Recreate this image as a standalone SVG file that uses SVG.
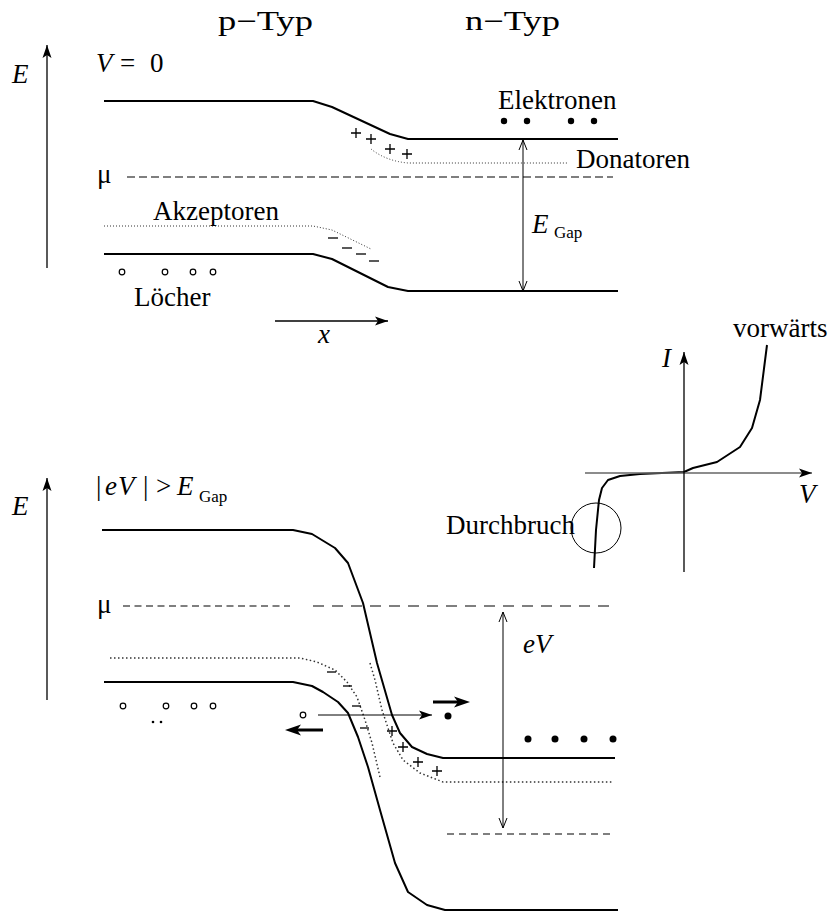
<svg xmlns="http://www.w3.org/2000/svg" width="833" height="914" viewBox="0 0 833 914">
<style>
text{font-family:"Liberation Serif","Times New Roman",serif;font-size:27px;fill:#000}
.it{font-style:italic}
.sub{font-size:17px}
.band{fill:none;stroke:#000;stroke-width:2;stroke-linejoin:round}
.dot{fill:none;stroke:#333;stroke-width:1;stroke-dasharray:1 2}
.dotb{fill:none;stroke:#333;stroke-width:1.5;stroke-dasharray:1.5 2.5}
.mu{fill:none;stroke:#555;stroke-width:1.3}
.ax{fill:none;stroke:#000;stroke-width:1.3}
.thin{fill:none;stroke:#000;stroke-width:1}
.bold{fill:none;stroke:#000;stroke-width:3}
.hole{fill:#fff;stroke:#000;stroke-width:1.2}
.el{fill:#000}
.sign{fill:none;stroke:#000;stroke-width:1.3}
</style>
<defs>
<marker id="ah" viewBox="-1 -6 15 12" markerWidth="15" markerHeight="12" refX="13" refY="0" orient="auto" markerUnits="userSpaceOnUse">
<path d="M0,-4.5 L13,0 L0,4.5 L3,0 z" fill="#000"/>
</marker>
<marker id="ahg" viewBox="-1 -6 15 12" markerWidth="15" markerHeight="12" refX="13" refY="0" orient="auto" markerUnits="userSpaceOnUse">
<path d="M0,-4.5 L13,0 L0,4.5 L3,0 z" fill="#000"/>
</marker>
<marker id="ahb" viewBox="-1 -7 18 14" markerWidth="18" markerHeight="14" refX="4" refY="0" orient="auto" markerUnits="userSpaceOnUse">
<path d="M0,-5.5 L16,0 L0,5.5 L4,0 z" fill="#000"/>
</marker>
<marker id="op" viewBox="-11 -6 12 12" markerWidth="12" markerHeight="12" refX="0" refY="0" orient="auto-start-reverse" markerUnits="userSpaceOnUse">
<path d="M-10,-4 L0,0 L-10,4" fill="none" stroke="#000" stroke-width="1"/>
</marker>
</defs>

<g id="header">
<text x="218" y="30" textLength="95" lengthAdjust="spacingAndGlyphs">p−Typ</text>
<text x="465" y="30" textLength="95" lengthAdjust="spacingAndGlyphs">n−Typ</text>
</g>

<g id="top-panel">
<text class="it" x="12" y="83">E</text>
<text x="96" y="72"><tspan class="it">V</tspan><tspan x="120">=</tspan><tspan x="150">0</tspan></text>
<path class="band" d="M104,101 H313 L332,107 L390,134 L408,139 H618"/>
<path class="band" d="M104,254 H313 L332,259 L388,287 L408,291 H618"/>
<path class="dot" d="M371,149 Q386,161 408,163 H568"/>
<path class="dot" d="M104,226 H313 L332,230 L371,249"/>
<path class="mu" d="M127,177 H613" stroke-dasharray="8 4"/>
<text x="97" y="183">μ</text>
<text x="153" y="220">Akzeptoren</text>
<text x="498" y="109">Elektronen</text>
<text x="576" y="168">Donatoren</text>
<text x="134" y="306">Löcher</text>
<text class="it" x="318" y="343">x</text>
<text class="it" x="532" y="233">E</text>
<text class="sub" x="554" y="238">Gap</text>
<g class="sign">
<path d="M351,133 h10 M356,128 v10"/>
<path d="M366,139 h10 M371,134 v10"/>
<path d="M385,149 h10 M390,144 v10"/>
<path d="M402,154 h10 M407,149 v10"/>
<path d="M328,238 h10"/>
<path d="M342,248 h10"/>
<path d="M356,254 h10"/>
<path d="M369,261 h10"/>
</g>
<g class="el">
<circle cx="504" cy="121" r="3.2"/>
<circle cx="527" cy="121" r="3.2"/>
<circle cx="571" cy="121" r="3.2"/>
<circle cx="594" cy="121" r="3.2"/>
</g>
<g>
<circle class="hole" cx="122" cy="272" r="2.8"/>
<circle class="hole" cx="165" cy="272" r="2.8"/>
<circle class="hole" cx="193" cy="272" r="2.8"/>
<circle class="hole" cx="213" cy="272" r="2.8"/>
</g>
</g>

<g id="iv-plot">
<text class="it" x="662" y="367">I</text>
<text class="it" x="799" y="503">V</text>
<text x="733" y="337">vorwärts</text>
<text x="446" y="534">Durchbruch</text>
<circle cx="596" cy="528" r="25" fill="none" stroke="#000" stroke-width="1"/>
<path class="band" d="M594,568 L596,530 L599,500 L602,488 L608,480 L620,476 L640,474 L684,472 L693,468 L717,462 L740,447 L752,428 L760,400 L767,345"/>
</g>

<g id="bottom-panel">
<text class="it" x="12" y="515">E</text>
<text x="96" y="495">|</text>
<text class="it" x="105" y="495">e</text>
<text class="it" x="118" y="495">V</text>
<text x="143" y="495">|</text>
<text x="156" y="495">&gt;</text>
<text class="it" x="177" y="495">E</text>
<text class="sub" x="199" y="502">Gap</text>
<text x="97" y="613">μ</text>
<text class="it" x="523" y="653">eV</text>
<path class="band" d="M102,530 H293 L312,534 L335,548 L348,563 L363,603 L377,663 L392,715 L400,733 L412,747 L427,754 L443,758 H615"/>
<path class="band" d="M104,682 H293 L312,686 L323,692 L338,702 L348,713 L358,737 L368,767 L380,810 L395,863 L408,892 L427,905 L445,910 H618"/>
<path class="dotb" d="M110,658 H300 L317,662 L335,670 L347,682 L357,697 L365,720 L372,743 L380,777"/>
<path class="dotb" d="M370,663 L375,680 L382,710 L387,725 L393,743 L403,760 L420,773 L443,782 H612"/>
<path class="mu" d="M123,606 H290" stroke-dasharray="7 4.5"/>
<path class="mu" d="M313,606 H610" stroke-dasharray="11 8"/>
<path class="mu" d="M447,834 H612" stroke-dasharray="7 5"/>
<g class="sign">
<path d="M327,672 h9"/>
<path d="M343,686 h9"/>
<path d="M352,706 h9"/>
<path d="M360,728 h9"/>
<path d="M387,731 h10 M392,726 v10"/>
<path d="M398,747 h10 M403,742 v10"/>
<path d="M413,762 h10 M418,757 v10"/>
<path d="M432,771 h10 M437,766 v10"/>
</g>
<g class="el">
<circle cx="448" cy="716" r="3.5"/>
<circle cx="528" cy="739" r="3.5"/>
<circle cx="555" cy="739" r="3.5"/>
<circle cx="584" cy="739" r="3.5"/>
<circle cx="613" cy="739" r="3.5"/>
<circle cx="153" cy="722" r="1.3"/>
<circle cx="161" cy="722" r="1.3"/>
</g>
<g>
<circle class="hole" cx="123" cy="706" r="2.8"/>
<circle class="hole" cx="166" cy="706" r="2.8"/>
<circle class="hole" cx="194" cy="706" r="2.8"/>
<circle class="hole" cx="213" cy="706" r="2.8"/>
<circle class="hole" cx="303" cy="715" r="2.8"/>
</g>
</g>

<g id="connectors">
<path class="ax" d="M47,268 V45" marker-end="url(#ah)"/>
<path class="ax" d="M47,700 V478" marker-end="url(#ah)"/>
<path class="ax" d="M275,321 H388" marker-end="url(#ah)"/>
<path class="thin" d="M523,140 V291" marker-start="url(#op)" marker-end="url(#op)"/>
<path class="thin" d="M503,612 V828" marker-start="url(#op)" marker-end="url(#op)"/>
<path d="M585,473 H812" fill="none" stroke="#666" stroke-width="1.3" marker-end="url(#ahg)"/>
<path class="ax" d="M684,572 V352" marker-end="url(#ah)"/>
<path class="thin" d="M318,715 H432" marker-end="url(#ah)"/>
<path class="bold" d="M433,702 H458" marker-end="url(#ahb)"/>
<path class="bold" d="M323,730 H297" marker-end="url(#ahb)"/>
</g>
</svg>
